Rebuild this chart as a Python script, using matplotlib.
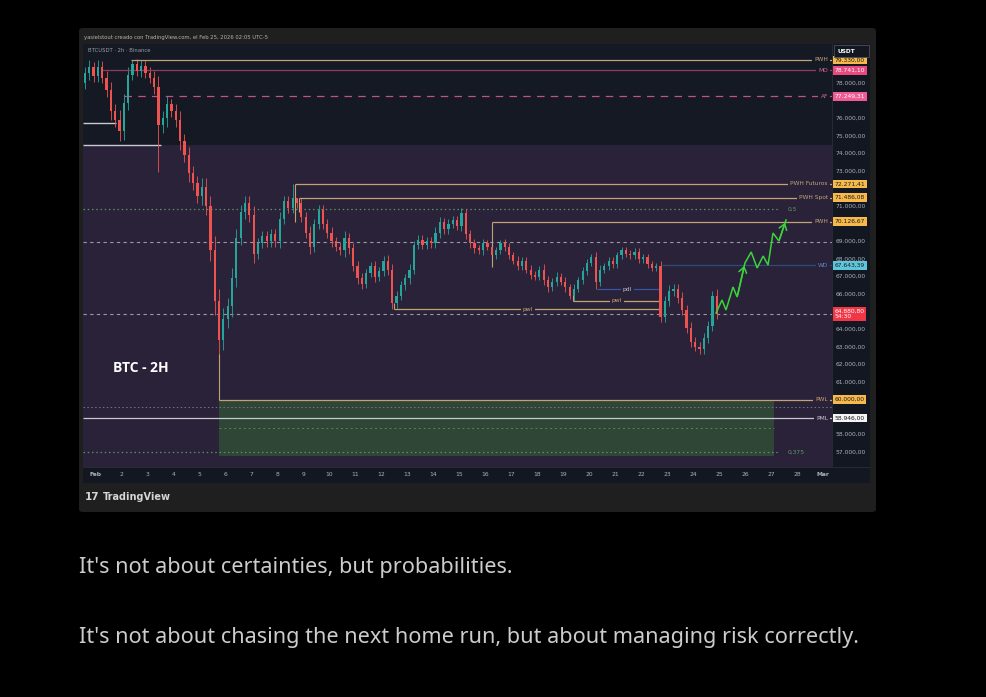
import numpy as np
import pandas as pd
import matplotlib
matplotlib.use('Agg')
import matplotlib.pyplot as plt
import matplotlib.dates as mdates
from matplotlib.patches import FancyBboxPatch, Rectangle
from matplotlib.transforms import blended_transform_factory as blend

# ---------------- data ----------------
first_candle = '2026-01-31 12:00'
candle_freq = '4h'
first_open = 78000
closes = [
    78600, 78900, 78400, 78950, 78300, 77600,
    76400, 75900, 75300, 76900, 78500, 79100,
    78700, 79000, 78600, 78300, 77800, 75600,
    76000, 76800, 76400, 75900, 74700, 73900,
    72900, 72300, 71600, 72100, 71000, 68500,
    65600, 63400, 64600, 65300, 66900, 69200,
    70700, 71200, 70500, 68300, 68900, 69300,
    69000, 69400, 69000, 70300, 71300, 70900,
    71500, 71200, 70400, 69500, 68700, 70000,
    70800, 70000, 69500, 69000, 68700, 68500,
    69200, 68600, 67600, 66900, 66600, 67200,
    67600, 67000, 67300, 67900, 67400, 65500,
    65900, 66500, 66900, 67400, 68800, 69100,
    68800, 69000, 68900, 69500, 70100, 69700,
    70000, 70200, 69900, 70600, 69400, 68900,
    68600, 68500, 68900, 68700, 68200, 68500,
    68900, 68700, 68200, 67900, 67600, 67900,
    67400, 67100, 67000, 67400, 66800, 66400,
    66700, 67000, 66700, 66400, 65900, 66300,
    66800, 67300, 67800, 68100, 66700, 67400,
    67600, 67900, 67700, 68200, 68500, 68300,
    68200, 68400, 68000, 68100, 67700, 67500,
    67600, 64700, 65600, 66200, 66300, 65800,
    65100, 64100, 63300, 63000, 62900, 63500,
    64200, 65900, 64880.8]
wicks = [
    300, 400, 300, 350, 300, 400, 500, 400, 600, 500, 400, 300,
    300, 350, 300, 300, 400, 600, 400, 500, 300, 400, 500, 400,
    500, 400, 400, 500, 500, 600, 800, 700, 600, 500, 600, 500,
    400, 400, 400, 500, 300, 300, 300, 300, 300, 400, 300, 300,
    300, 300, 300, 300, 400, 300, 300, 300, 300, 300, 250, 250,
    400, 300, 300, 300, 300, 250, 250, 300, 250, 250, 300, 300,
    300, 250, 250, 300, 250, 250, 250, 250, 250, 300, 300, 250,
    250, 250, 250, 300, 250, 250, 250, 200, 250, 200, 250, 200,
    200, 250, 200, 200, 250, 200, 200, 250, 200, 200, 300, 250,
    200, 250, 200, 250, 200, 250, 200, 250, 200, 200, 300, 250,
    200, 200, 200, 200, 200, 200, 200, 200, 200, 200, 200, 200,
    200, 300, 300, 300, 300, 300, 300, 300, 300, 250, 300, 300,
    300, 300, 300]
extreme_highs = {11: 79330, 48: 72270, 49: 71490, 87: 70900, 146: 66300}
extreme_lows = {8: 74700, 17: 72950, 31: 62400, 71: 65150, 113: 65600,
                118: 66290, 133: 64400, 142: 62600}

# key levels (start given as Feb day number)
level_names = ['PWH', 'MO', 'AF', 'PWH Futuros', 'PWH Spot', 'PWH', 'WD', 'PWL', 'PML']
level_prices = [79330.00, 78741.10, 77249.31, 72271.41, 71486.08, 70126.67, 67643.39, 60000.00, 58946.00]
level_start = [2.36, 1.20, 2.10, 8.67, 8.83, 16.26, 22.81, 5.73, 0.51]
level_kind = ['pw', 'mo', 'af', 'pw', 'pw', 'pw', 'wd', 'pw', 'pml']
bracket_low = [None, None, None, 70100, 70700, 67550, None, 62600, None]

# short in-chart levels
short_names = ['pdl', 'pwl', 'pwl']
short_prices = [66290, 65610, 65150]
short_start = [20.30, 19.38, 12.49]
short_end = [22.75, 22.75, 22.75]
short_label_day = [21.46, 21.07, 17.65]
short_bracket = [None, 66230, 65500]

# fib / reference lines
fib_labels = ['0,5', '0,375']
fib_prices = [70830, 57015]
gray_dashed = [68980, 64880.8]
gray_dotted = [59590]
white_lines = [75740, 74490]
white_ends = [1.78, 3.51]
zone_top_price = 74490
green_box = (5.73, 27.12, 56790, 60000)
green_mid = 58395

current_price = 64880.80
countdown = '54:30'

zig_days = [24.886, 25.117, 25.27, 25.54, 25.70, 26.00, 26.24, 26.47, 26.70, 26.89, 27.08, 27.31, 27.58]
zig_prices = [64927, 65667, 65098, 66406, 65837, 67772, 68398, 67487, 68170, 67658, 69479, 69024, 70219]

x_tick_days = list(range(1, 30))
x_tick_labels = ['Feb'] + [str(d) for d in range(2, 29)] + ['Mar']
axis_prices = list(range(57000, 80000, 1000))

header = 'yasielstout creado con TradingView.com, el Feb 25, 2026 02:05 UTC-5'
symbol = 'BTCUSDT · 2h · Binance'
caption1 = "It's not about certainties, but probabilities."
caption2 = "It's not about chasing the next home run, but about managing risk correctly."

# ---------------- style ----------------
W, H = 986, 697
NAVY = '#151924'
PURPLE = '#2a2238'
AXBG = '#131722'
CARD = '#1f1f1f'
UP, DN = '#26a69a', '#ef5350'
TAN = '#c2a275'
GREEN = '#3ad43a'
kind_style = {
    'pw':  dict(line=TAN, ls='-', text=TAN, box='#f7b94c', boxtext='#1a1a1a'),
    'mo':  dict(line='#8e3a5f', ls='-', text='#d4678f', box='#e84a7f', boxtext='white'),
    'af':  dict(line='#c4508a', ls=(0, (6, 5)), text='#d4678f', box='#ef5b93', boxtext='white'),
    'wd':  dict(line='#2b4c78', ls='-', text='#5c8cc8', box='#5ec6dc', boxtext='#1a1a1a'),
    'pml': dict(line='#c8c8d2', ls='-', text='#c8c8d2', box='#f4f4f4', boxtext='#1a1a1a'),
}

fig = plt.figure(figsize=(W / 100, H / 100), dpi=100)
fig.patch.set_facecolor('#000000')


def rect(x0, y0, x1, y1):
    return [x0 / W, 1 - y1 / H, (x1 - x0) / W, (y1 - y0) / H]


BASE = pd.Timestamp('2026-02-01')


def dnum(d):
    d = np.atleast_1d(np.asarray(d, dtype=float))
    out = mdates.date2num([BASE + pd.Timedelta(days=float(v) - 1) for v in d])
    return out if len(out) > 1 else out[0]


def eu(v):
    return f"{v:,.2f}".replace(',', ' ').replace('.', ',').replace(' ', '.')


# card (behind everything)
fig.patches.append(FancyBboxPatch((79 / W, 1 - 512 / H), 797 / W, 484 / H,
                                  boxstyle='round,pad=0,rounding_size=0.004',
                                  transform=fig.transFigure, facecolor=CARD,
                                  edgecolor='none', zorder=-5))

XMIN, XMAX = 0.511, 29.352
YMIN, YMAX = 56162, 80237

ax = fig.add_axes(rect(83, 44, 832, 467))
ax.set_facecolor(NAVY)
ax.set_xlim(dnum(XMIN), dnum(XMAX))
ax.set_ylim(YMIN, YMAX)
ax.set_xticks([]); ax.set_yticks([])
for s in ax.spines.values():
    s.set_visible(False)

ax.axhspan(YMIN, zone_top_price, color=PURPLE, zorder=0, lw=0)

# green zone
gx0, gx1, gy0, gy1 = green_box
ax.add_patch(Rectangle((dnum(gx0), gy0), dnum(gx1) - dnum(gx0), gy1 - gy0,
                       facecolor='#2f4637', edgecolor='none', zorder=1))
ax.hlines(green_mid, dnum(gx0), dnum(gx1), color='#5d7f63', lw=0.7, ls=(0, (2, 3)), zorder=2)

# reference lines
for p in gray_dashed:
    ax.axhline(p, color='#9a98a8', lw=0.8, ls=(0, (3, 3)), zorder=2)
for p in gray_dotted:
    ax.axhline(p, color='#77758a', lw=0.7, ls=(0, (1.5, 2.5)), zorder=2)
for lab, p in zip(fib_labels, fib_prices):
    ax.hlines(p, dnum(XMIN), dnum(27.3), color='#5d8f68', lw=0.9, ls=(0, (1.2, 2.2)), zorder=2)
    ax.text(dnum(27.66), p, lab, color='#5d9a6a', fontsize=4.3, va='center', ha='left', zorder=5)
for p, e in zip(white_lines, white_ends):
    ax.hlines(p, dnum(XMIN), dnum(e), color='#c9c9d3', lw=1.0, zorder=2)

# candles
times = pd.date_range(first_candle, periods=len(closes), freq=candle_freq) + pd.Timedelta(hours=2)
x = mdates.date2num(times)
c = np.array(closes, dtype=float)
o = np.r_[first_open, c[:-1]]
w = np.array(wicks, dtype=float)
hi = np.maximum(o, c) + w
lo = np.minimum(o, c) - w
for k, v in extreme_highs.items():
    hi[k] = v
for k, v in extreme_lows.items():
    lo[k] = v
cols = np.where(c >= o, UP, DN)
ax.vlines(x, lo, hi, colors=cols, lw=0.6, zorder=3)
ax.bar(x, np.maximum(np.abs(c - o), 50), bottom=np.minimum(o, c), width=0.085,
       color=cols, linewidth=0, zorder=4)

# key levels
for name, p, st, kind, bl in zip(level_names, level_prices, level_start, level_kind, bracket_low):
    sty = kind_style[kind]
    ax.hlines(p, dnum(st), dnum(XMAX), color=sty['line'], lw=0.9, ls=sty['ls'], zorder=3)
    if bl is not None:
        ax.vlines(dnum(st), bl, p, color=sty['line'], lw=0.8, zorder=3)
    bg = NAVY if p > zone_top_price else PURPLE
    ax.text(0.9945, p, name, transform=blend(ax.transAxes, ax.transData), ha='right', va='center',
            fontsize=4.2, color=sty['text'], zorder=6,
            bbox=dict(boxstyle='square,pad=0.35', fc=bg, ec='none'))

for name, p, st, en, ld, bl in zip(short_names, short_prices, short_start, short_end,
                                   short_label_day, short_bracket):
    col = '#3556a6' if name == 'pdl' else TAN
    tcol = '#c4c4d4' if name == 'pdl' else '#c8a46e'
    ax.hlines(p, dnum(st), dnum(en), color=col, lw=0.9, zorder=3)
    if bl is not None:
        ax.vlines(dnum(st), p, bl, color=col, lw=0.8, zorder=3)
    ax.text(dnum(ld), p, name, ha='center', va='center', fontsize=4.3, color=tcol, zorder=6,
            bbox=dict(boxstyle='square,pad=0.3', fc=PURPLE, ec='none'))

# projection zigzag
zx = dnum(zig_days)
ax.plot(zx, zig_prices, color=GREEN, lw=1.1, zorder=7, solid_joinstyle='miter')
for i in (5, len(zig_days) - 1):
    ax.annotate('', xy=(zx[i], zig_prices[i]), xytext=(zx[i - 1], zig_prices[i - 1]),
                arrowprops=dict(arrowstyle='->,head_length=0.4,head_width=0.28', color=GREEN, lw=1.1),
                zorder=7)

ax.text(dnum(1.67), 61800, 'BTC - 2H', fontsize=10, fontweight='bold', color='white',
        va='center', ha='left', family='Open Sans', zorder=6)

# price axis
axr = fig.add_axes(rect(832, 44, 870, 467))
axr.set_facecolor(AXBG)
axr.set_ylim(YMIN, YMAX)
axr.set_xlim(0, 1)
axr.set_xticks([]); axr.set_yticks([])
for s in axr.spines.values():
    s.set_visible(False)
axr.spines['left'].set_visible(True)
axr.spines['left'].set_color('#2a2e39')
axr.spines['left'].set_linewidth(0.6)
tr = blend(axr.transAxes, axr.transData)
for v in axis_prices:
    if min(abs(v - p) for p in level_prices) < 300 or abs(v - current_price) < 450:
        continue  # hidden behind a price tag
    axr.text(0.1, v, eu(v), transform=tr, fontsize=4.3, color='#aeb1ba', va='center', ha='left', zorder=1)
for name, p, kind in zip(level_names, level_prices, level_kind):
    sty = kind_style[kind]
    axr.text(0.07, p, eu(p), transform=tr, fontsize=4.3, color=sty['boxtext'], va='center', ha='left',
             zorder=3, bbox=dict(boxstyle='square,pad=0.3', fc=sty['box'], ec='none'))
axr.text(0.07, current_price, eu(current_price) + '\n' + countdown, transform=tr, fontsize=4.3,
         color='white', va='center', ha='left', linespacing=1.2, zorder=3,
         bbox=dict(boxstyle='square,pad=0.3', fc='#f23645', ec='none'))
# USDT tag
fig.patches.append(Rectangle((834 / W, 1 - 57 / H), 35 / W, 12 / H, transform=fig.transFigure,
                             facecolor='#131722', edgecolor='#4a4e5a', lw=0.6, zorder=5))
fig.text(838 / W, 1 - 51.5 / H, 'USDT', fontsize=4.2, color='white', fontweight='bold',
         va='center', ha='left', zorder=6)

# time axis
axb = fig.add_axes(rect(83, 467, 870, 483))
axb.set_facecolor(AXBG)
axb.set_xlim(dnum(XMIN), dnum(30.815))
axb.set_ylim(0, 1)
axb.set_xticks([]); axb.set_yticks([])
for s in axb.spines.values():
    s.set_visible(False)
axb.spines['top'].set_visible(True)
axb.spines['top'].set_color('#2a2e39')
axb.spines['top'].set_linewidth(0.6)
trb = blend(axb.transData, axb.transAxes)
for d, lab in zip(x_tick_days, x_tick_labels):
    axb.text(dnum(d), 0.5, lab, transform=trb, fontsize=4.3, color='#aeb1ba', ha='center', va='center',
             fontweight='bold' if lab in ('Feb', 'Mar') else 'normal')

# header texts
fig.text(84 / W, 1 - 37 / H, header, fontsize=3.8, color='#b4b4b4', va='center', ha='left')
fig.text(88 / W, 1 - 50 / H, symbol, fontsize=3.8, color='#9a9da6', va='center', ha='left', zorder=6)

# TradingView logo
fig.text(85 / W, 1 - 497 / H, '17', fontsize=7.5, fontweight='heavy', color='#d6d6d6',
         va='center', ha='left')
fig.text(103 / W, 1 - 497 / H, 'TradingView', fontsize=7, fontweight='bold', color='#d6d6d6',
         va='center', ha='left')

# captions
fig.text(79 / W, 1 - 567 / H, caption1, fontsize=15.6, color='#cccccc', va='center', ha='left',
         family='Noto Sans')
fig.text(79 / W, 1 - 637 / H, caption2, fontsize=15.6, color='#cccccc', va='center', ha='left',
         family='Noto Sans')

fig.savefig('out.png', dpi=100, facecolor=fig.get_facecolor())
